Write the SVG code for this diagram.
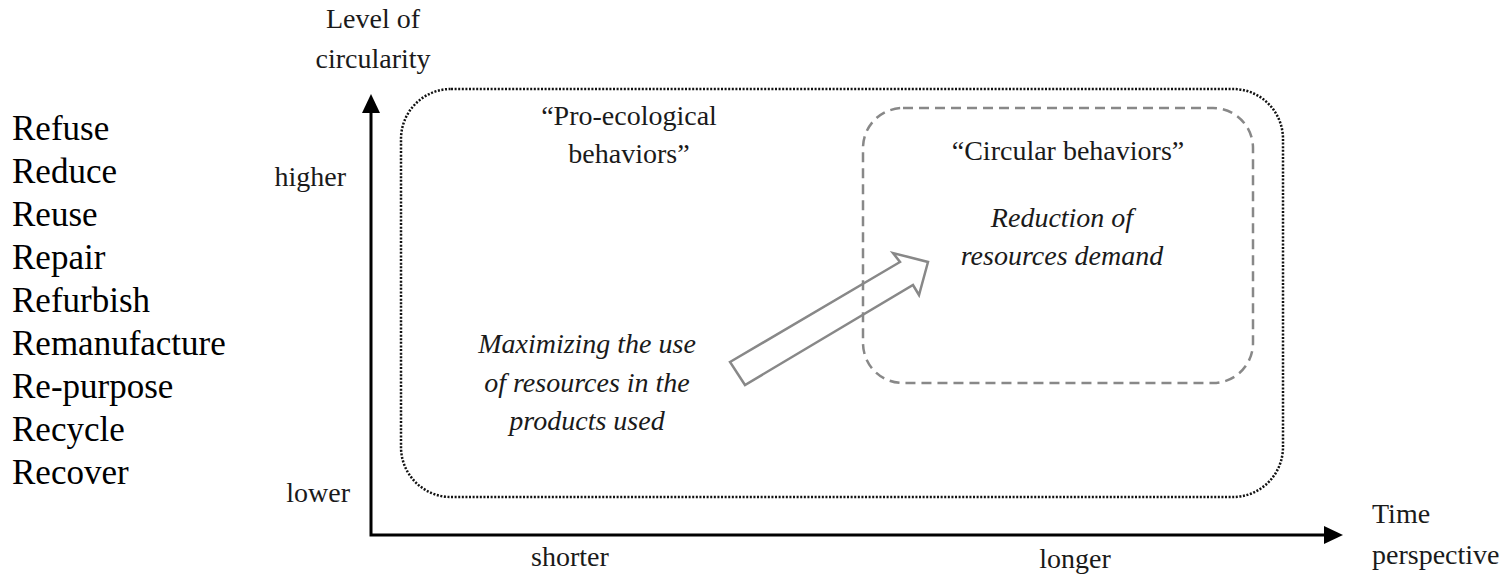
<svg xmlns="http://www.w3.org/2000/svg" width="1511" height="585" viewBox="0 0 1511 585">
<style>
text{font-family:"Liberation Serif","Times New Roman",serif;fill:#1a1a1a;font-size:28px}
.list{font-family:"Liberation Serif","Times New Roman",serif;font-size:35px;fill:#000}
.it{font-style:italic}
.mid{text-anchor:middle}
.end{text-anchor:end}
.axis{stroke:#000;stroke-width:3;fill:none}
.head{fill:#000}
</style>
<rect width="1511" height="585" fill="#fff"/>
<g id="list">
<text class="list" x="12" y="140">Refuse</text>
<text class="list" x="12" y="183">Reduce</text>
<text class="list" x="12" y="226">Reuse</text>
<text class="list" x="12" y="269">Repair</text>
<text class="list" x="12" y="312">Refurbish</text>
<text class="list" x="12" y="355">Remanufacture</text>
<text class="list" x="12" y="398">Re-purpose</text>
<text class="list" x="12" y="441">Recycle</text>
<text class="list" x="12" y="484">Recover</text>
</g>
<g id="axes">
<path class="axis" d="M371,112 V535 H1325"/>
<polygon class="head" points="371,94 362,113 380,113"/>
<polygon class="head" points="1343,535 1324,526 1324,544"/>
<text class="mid" x="373" y="28">Level of</text>
<text class="mid" x="373" y="68">circularity</text>
<text class="end" x="346" y="186">higher</text>
<text class="end" x="350" y="502">lower</text>
<text class="mid" x="570" y="566">shorter</text>
<text class="mid" x="1075" y="568">longer</text>
<text x="1372" y="523">Time</text>
<text x="1372" y="564">perspective</text>
</g>
<g id="pro-ecological">
<rect x="401" y="89" width="882" height="408" rx="50" ry="50" fill="none" stroke="#111" stroke-width="2.5" stroke-dasharray="2 1.6"/>
<text class="mid" x="629" y="125">“Pro-ecological</text>
<text class="mid" x="629" y="163">behaviors”</text>
<text class="mid it" x="587" y="353">Maximizing the use</text>
<text class="mid it" x="587" y="392">of resources in the</text>
<text class="mid it" x="587" y="430">products used</text>
</g>
<g id="circular">
<rect x="863" y="108" width="390" height="275" rx="40" ry="40" fill="none" stroke="#888" stroke-width="2.5" stroke-dasharray="10 6"/>
<text class="mid" x="1068" y="160">“Circular behaviors”</text>
<text class="mid it" x="1062" y="227">Reduction of</text>
<text class="mid it" x="1062" y="265">resources demand</text>
</g>
<g id="connectors">
<polygon points="730,362 900,262 893,253 928,262 919,295 913,285 745,385" fill="none" stroke="#888" stroke-width="2.5" stroke-linejoin="miter"/>
</g>
</svg>
